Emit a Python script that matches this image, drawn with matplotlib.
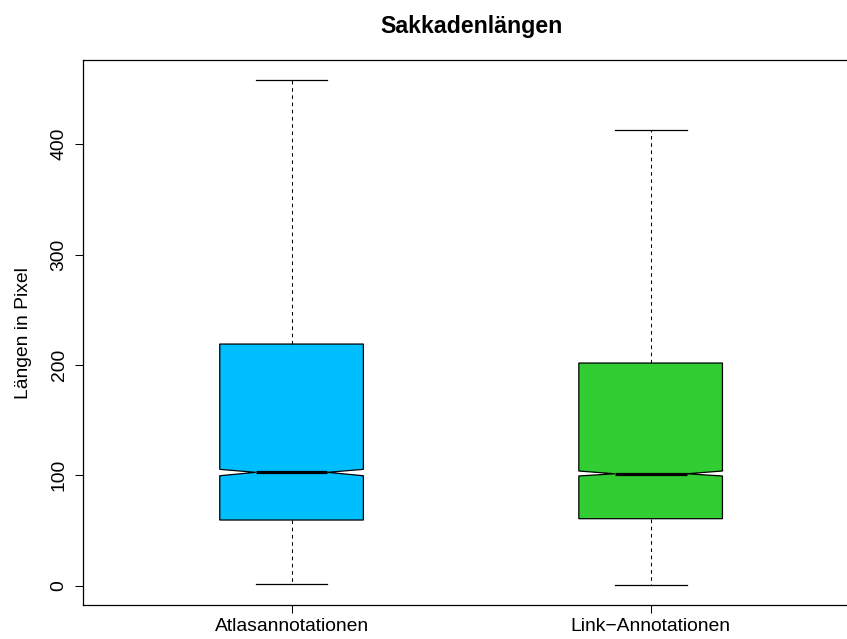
import matplotlib
matplotlib.use("Agg")
import matplotlib.pyplot as plt

plt.rcParams['font.family'] = ['Liberation Sans', 'DejaVu Sans']
plt.rcParams['lines.scale_dashes'] = False

# Summary statistics of saccade lengths (pixels) per annotation type
groups = ["Atlasannotationen", "Link\u2212Annotationen"]
whisker_low = [1.8, 0.9]
q1 = [59.5, 60.7]
notch_low = [99.6, 99.4]
median = [102.7, 101.4]
notch_high = [105.4, 103.9]
q3 = [218.9, 201.7]
whisker_high = [458.0, 412.8]
fill_colors = ["#00BFFF", "#32CD32"]

yticks = [0, 100, 200, 300, 400]

DPI = 100
W, H = 847, 639
fig = plt.figure(figsize=(W / DPI, H / DPI), dpi=DPI)

# plot region in pixels (right edge runs past the image border)
left_px, right_px, top_px, bottom_px = 83.3, 858.9, 60.0, 605.3
ax = fig.add_axes([left_px / W, 1 - bottom_px / H,
                   (right_px - left_px) / W, (bottom_px - top_px) / H])

stats = []
for i, name in enumerate(groups):
    stats.append(dict(label=name, whislo=whisker_low[i], q1=q1[i],
                      med=median[i], q3=q3[i], whishi=whisker_high[i],
                      cilo=notch_low[i], cihi=notch_high[i], fliers=[]))

bp = ax.bxp(stats, positions=[1, 2], widths=0.4, shownotches=True,
            patch_artist=True, showfliers=False,
            boxprops=dict(edgecolor="black", linewidth=0.9),
            whiskerprops=dict(color="black", linewidth=0.75,
                              linestyle=(0, (2.6, 2.6))),
            capprops=dict(color="black", linewidth=0.9),
            medianprops=dict(color="black", linewidth=2.3, solid_capstyle="butt"))
for patch, c in zip(bp["boxes"], fill_colors):
    patch.set_facecolor(c)

ax.set_xlim(0.42, 2.58)
ax.set_ylim(-17.75, 476.2)

FS = 13.9
ax.set_xticks([1, 2])
ax.set_xticklabels(groups, fontsize=FS)
ax.set_yticks(yticks)
ax.set_yticklabels([str(v) for v in yticks], fontsize=FS,
                   rotation=90, va="center")
ax.tick_params(axis="both", direction="out", length=5.8, width=0.75,
               color="black")
ax.tick_params(axis="x", pad=3.0)
ax.tick_params(axis="y", pad=5.5)

for s in ax.spines.values():
    s.set_linewidth(0.9)
    s.set_color("black")

ax.set_ylabel("L\u00e4ngen in Pixel", fontsize=FS)
ax.yaxis.set_label_coords((32 - left_px) / (right_px - left_px), 0.5)

fig.text((left_px + right_px) / 2 / W, 1 - 32.5 / H, "Sakkadenl\u00e4ngen",
         ha="center", va="baseline", fontsize=16.7, fontweight="bold")

fig.savefig("out.png", dpi=DPI)
